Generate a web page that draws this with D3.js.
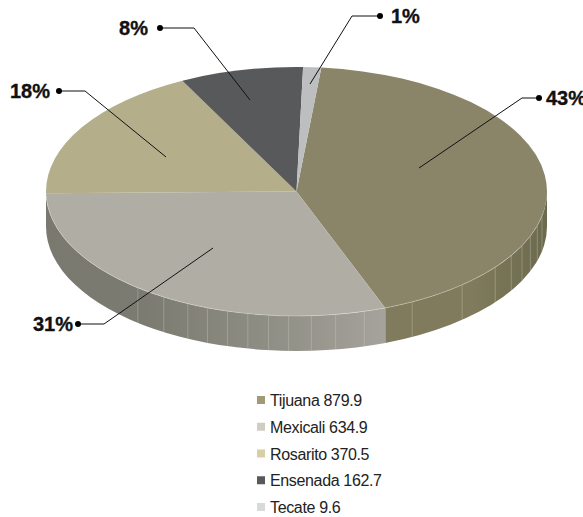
<!DOCTYPE html>
<html><head><meta charset="utf-8">
<script src="https://cdn.jsdelivr.net/npm/d3@7/dist/d3.min.js"></script>
<style>html,body{margin:0;padding:0;background:#fff;overflow:hidden}svg{display:block}</style>
</head><body><svg id="c" width="583" height="517"></svg>
<script>
const categories = ["Tijuana","Mexicali","Rosarito","Ensenada","Tecate"];
const legendValues = ["879.9","634.9","370.5","162.7","9.6"];
const sliceValues = [879.9,630,365,164,24];
const percentLabels = ["43%","31%","18%","8%","1%"];
const topColors = ["#8a8568","#b0aea4","#b4ae8b","#58595b","#bcbec0"];
const legendColors = ["#a09a78","#d0cdc2","#d8d0a4","#58595b","#d8d9da"];
const seamAngles = [101.5,106,111,115.8,121,127.5,138.6,152.5,164.3,171,176.6,181.8,186.4,191.2,196,200.8,205.7,212,219.3];

const W=583,H=517,cx=296.5,cy=191.5,rx=250.5,ry=124.5,depth=35,startDeg=5.7;
const svg=d3.select("#c");
const rad=d3.scaleLinear().domain([0,360]).range([0,2*Math.PI]);
const pie=d3.pie().sort(null).value(d=>d).startAngle(rad(startDeg)).endAngle(rad(startDeg+360));
const arcs=pie(sliceValues);
const deg=r=>r*180/Math.PI;
const px=a=>cx+rx*Math.sin(rad(a)), py=a=>cy-ry*Math.cos(rad(a));

const defs=svg.append("defs");
function grad(id,stops){
  const g=defs.append("linearGradient").attr("id",id).attr("gradientUnits","userSpaceOnUse")
    .attr("x1",cx-rx).attr("x2",cx+rx).attr("y1",0).attr("y2",0);
  stops.forEach(s=>g.append("stop").attr("offset",s[0]).attr("stop-color",s[1]));
}
grad("wallM",[[0,"#7a7970"],[0.2,"#7c7b72"],[0.5,"#94938a"],[0.68,"#a5a39b"],[1,"#a5a39b"]]);
grad("wallT",[[0,"#7f7b5c"],[0.85,"#7f7b5c"],[1,"#6c6a4e"]]);

function wallPath(a0,a1){
  return `M${px(a0)},${py(a0)}A${rx},${ry} 0 0 1 ${px(a1)},${py(a1)}L${px(a1)},${py(a1)+depth}A${rx},${ry} 0 0 0 ${px(a0)},${py(a0)+depth}Z`;
}
const e0=deg(arcs[0].endAngle);
svg.append("path").attr("d",wallPath(90,e0)).attr("fill","url(#wallT)");
svg.append("path").attr("d",wallPath(e0,270)).attr("fill","url(#wallM)");
svg.selectAll("line.seam").data(seamAngles).join("line").attr("class","seam")
  .attr("x1",px).attr("x2",px).attr("y1",py).attr("y2",a=>py(a)+depth)
  .attr("stroke","#d6d6cc").attr("stroke-opacity",.4).attr("stroke-width",.8);

const arc=d3.arc().innerRadius(0).outerRadius(rx);
svg.append("g").attr("transform",`translate(${cx},${cy}) scale(1,${ry/rx})`)
  .selectAll("path").data(arcs).join("path").attr("d",arc).attr("fill",(d,i)=>topColors[i]);
svg.append("path")
  .attr("d",`M${px(100)},${py(100)}A${rx},${ry} 0 0 1 ${px(268)},${py(268)}`)
  .attr("fill","none").attr("stroke","#e4e3da").attr("stroke-opacity",.5).attr("stroke-width",.8);

// leader lines
const leaderLayout=[
 {p:[[419,168],[522,98],[539,98]],tx:546,ty:105,anchor:"start"},
 {p:[[213,248],[104,324],[78,324]],tx:73,ty:331,anchor:"end"},
 {p:[[166,157],[85,91],[59,91]],tx:50,ty:98,anchor:"end"},
 {p:[[250,100],[194,28],[160,28]],tx:148,ty:35,anchor:"end"},
 {p:[[310,84],[352,16],[380,16]],tx:391,ty:23,anchor:"start"}
];
const line=d3.line();
const lab=svg.append("g");
leaderLayout.forEach((l,i)=>{
  lab.append("path").attr("d",line(l.p)).attr("fill","none").attr("stroke","#111").attr("stroke-width",1);
  lab.append("circle").attr("cx",l.p[2][0]).attr("cy",l.p[2][1]).attr("r",3).attr("fill","#000");
  lab.append("text").attr("x",l.tx).attr("y",l.ty).attr("text-anchor",l.anchor)
    .attr("font-family","'Liberation Sans',Arial,sans-serif").attr("font-weight","bold").attr("font-size",20)
    .attr("fill","#111").attr("stroke","#111").attr("stroke-width",.35).text(percentLabels[i]);
});

// legend
const ly=d3.scalePoint().domain(categories).range([400,507]);
const leg=svg.append("g").selectAll("g").data(categories).join("g").attr("transform",d=>`translate(257,${ly(d)})`);
leg.append("rect").attr("x",0).attr("y",-4).attr("width",8).attr("height",8).attr("fill",(d,i)=>legendColors[i]);
leg.append("text").attr("x",13).attr("y",6).attr("font-family","'Liberation Sans',Arial,sans-serif")
  .attr("font-size",16).attr("letter-spacing",-0.35).attr("fill","#222").text((d,i)=>d+" "+legendValues[i]);
</script></body></html>
